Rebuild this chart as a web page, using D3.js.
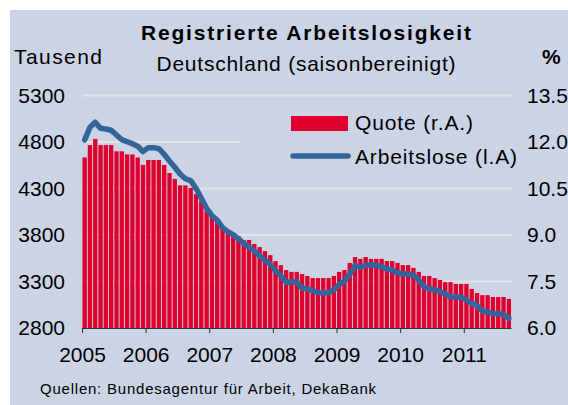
<!DOCTYPE html>
<html><head><meta charset="utf-8">
<script src="https://cdn.jsdelivr.net/npm/d3@7"></script>
<style>
html,body{margin:0;padding:0;background:#fff;}
svg{display:block;font-family:"Liberation Sans",Arial,sans-serif;}
</style></head>
<body>
<svg id="c" width="568" height="405"></svg>
<script>
// ---- data (monthly, Jan 2005 – Sep 2011) ----
const startYear = 2005;
const quote = [11.5,11.9,12.1,11.9,11.9,11.9,11.7,11.7,11.6,11.6,11.5,11.26,
  11.42,11.42,11.42,11.26,11.0,10.81,10.6,10.6,10.52,10.32,10.1,9.77,
  9.58,9.48,9.29,9.13,9.03,8.97,8.84,8.84,8.71,8.61,8.48,8.35,
  8.16,8.03,7.87,7.81,7.81,7.74,7.68,7.61,7.61,7.61,7.61,7.68,
  7.81,7.87,8.1,8.29,8.23,8.29,8.23,8.23,8.23,8.16,8.16,8.1,
  8.03,8.03,7.94,7.81,7.68,7.68,7.61,7.55,7.48,7.48,7.42,7.42,
  7.42,7.26,7.13,7.06,7.06,7.0,7.0,7.0,6.94];
const arbeitslose = [4821,4958,5012,4947,4940,4926,4875,4825,4803,4782,4754,4696,
  4739,4739,4728,4668,4596,4528,4456,4405,4384,4302,4195,4087,
  4008,3961,3879,3836,3803,3757,3711,3668,3631,3577,3531,3485,
  3416,3362,3291,3295,3298,3227,3223,3201,3180,3180,3180,3209,
  3270,3305,3377,3474,3453,3474,3477,3474,3459,3431,3424,3391,
  3381,3381,3367,3316,3244,3223,3209,3190,3166,3137,3133,3133,
  3101,3066,3040,2983,2972,2954,2954,2947,2904];
const yearLabels = ["2005","2006","2007","2008","2009","2010","2011"];
const leftTicks = [2800,3300,3800,4300,4800,5300];
const rightTicks = [6.0,7.5,9.0,10.5,12.0,13.5];

const title = "Registrierte Arbeitslosigkeit";
const subtitle = "Deutschland (saisonbereinigt)";
const leftUnit = "Tausend";
const rightUnit = "%";
const legendQuote = "Quote (r.A.)";
const legendLine = "Arbeitslose (l.A)";
const source = "Quellen: Bundesagentur für Arbeit, DekaBank";

// ---- styles ----
const BG = "#CBD3E5", BAR = "#E0002F", LINE = "#33659B", GRID = "#E4E4E6";
const svg = d3.select("#c");
const X0 = 82, X1 = 511.5, YT = 95.5, YB = 328;

svg.append("rect").attr("x",10).attr("y",10).attr("width",558).attr("height",395).attr("fill",BG);

const n = quote.length;
const xb = d3.scaleBand().domain(d3.range(n)).range([X0, X0 + (X1-X0)*n/81]).paddingInner(0.18).paddingOuter(0.09);
const xl = d3.scaleLinear().domain([0,81]).range([X0,X1]);
const yL = d3.scaleLinear().domain([2800,5300]).range([YB,YT]);
const yR = d3.scaleLinear().domain([6,13.5]).range([YB,YT]);

// gridlines
svg.append("g").selectAll("line").data(leftTicks.slice(1)).join("line")
  .attr("x1",X0).attr("x2",X1).attr("y1",d=>yL(d)).attr("y2",d=>yL(d))
  .attr("stroke",GRID).attr("stroke-width",2);

// legend backdrop hides gridline
svg.append("rect").attr("x",240).attr("y",104).attr("width",280).attr("height",72).attr("fill",BG);

// bars
svg.append("g").selectAll("rect").data(quote).join("rect")
  .attr("x",(d,i)=>xb(i)).attr("width",xb.bandwidth())
  .attr("y",d=>yR(d)).attr("height",d=>YB-yR(d)).attr("fill",BAR);

// line
const line = d3.line().x((d,i)=>xl(i+0.5)).y(d=>yL(d)).curve(d3.curveLinear);
svg.append("path").datum(arbeitslose).attr("d",line).attr("fill","none")
  .attr("stroke",LINE).attr("stroke-width",5.5).attr("stroke-linejoin","round").attr("stroke-linecap","round");

// x axis
const xAxis = d3.axisBottom(xl).tickValues(d3.range(yearLabels.length).map(i=>i*12))
  .tickFormat((d,i)=>yearLabels[i]).tickSize(5).tickPadding(14);
const gx = svg.append("g").attr("transform",`translate(0,${YB})`).call(xAxis);
gx.select(".domain").attr("d",`M${X0},0.5H${X1}`).attr("stroke","#333").attr("stroke-width",1.2);
gx.selectAll(".tick line").attr("stroke","#333");
gx.selectAll("text").attr("font-size",21).attr("fill","#000").attr("font-family","Liberation Sans, Arial, sans-serif");

// left axis
const gl = svg.append("g").attr("transform",`translate(65,0)`)
  .call(d3.axisLeft(yL).tickValues(leftTicks).tickFormat(d3.format("d")).tickSize(0).tickPadding(0));
gl.select(".domain").remove();
gl.selectAll("text").attr("font-size",21).attr("fill","#000").attr("font-family","Liberation Sans, Arial, sans-serif");

// right axis
const gr = svg.append("g").attr("transform",`translate(527,0)`)
  .call(d3.axisRight(yR).tickValues(rightTicks).tickFormat(d3.format(".1f")).tickSize(0).tickPadding(0));
gr.select(".domain").remove();
gr.selectAll("text").attr("font-size",21).attr("fill","#000").attr("font-family","Liberation Sans, Arial, sans-serif");

// titles
svg.append("text").attr("x",306).attr("y",40).attr("text-anchor","middle")
  .attr("font-size",21).attr("font-weight","bold").attr("textLength",330).text(title);
svg.append("text").attr("x",306).attr("y",71).attr("text-anchor","middle")
  .attr("font-size",21).attr("textLength",299).text(subtitle);
svg.append("text").attr("x",14).attr("y",64).attr("font-size",21).attr("textLength",88).text(leftUnit);
svg.append("text").attr("x",542).attr("y",64).attr("font-size",21).attr("font-weight","bold").text(rightUnit);

// legend
svg.append("rect").attr("x",291).attr("y",116).attr("width",57).attr("height",15).attr("fill",BAR);
svg.append("line").attr("x1",293).attr("x2",348).attr("y1",156).attr("y2",156)
  .attr("stroke",LINE).attr("stroke-width",5.5).attr("stroke-linecap","round");
svg.append("text").attr("x",355).attr("y",130).attr("font-size",21).attr("textLength",118).text(legendQuote);
svg.append("text").attr("x",355).attr("y",164).attr("font-size",21).attr("textLength",162).text(legendLine);

// source
svg.append("text").attr("x",40).attr("y",394).attr("font-size",15).attr("textLength",336).text(source);
</script>
</body></html>
